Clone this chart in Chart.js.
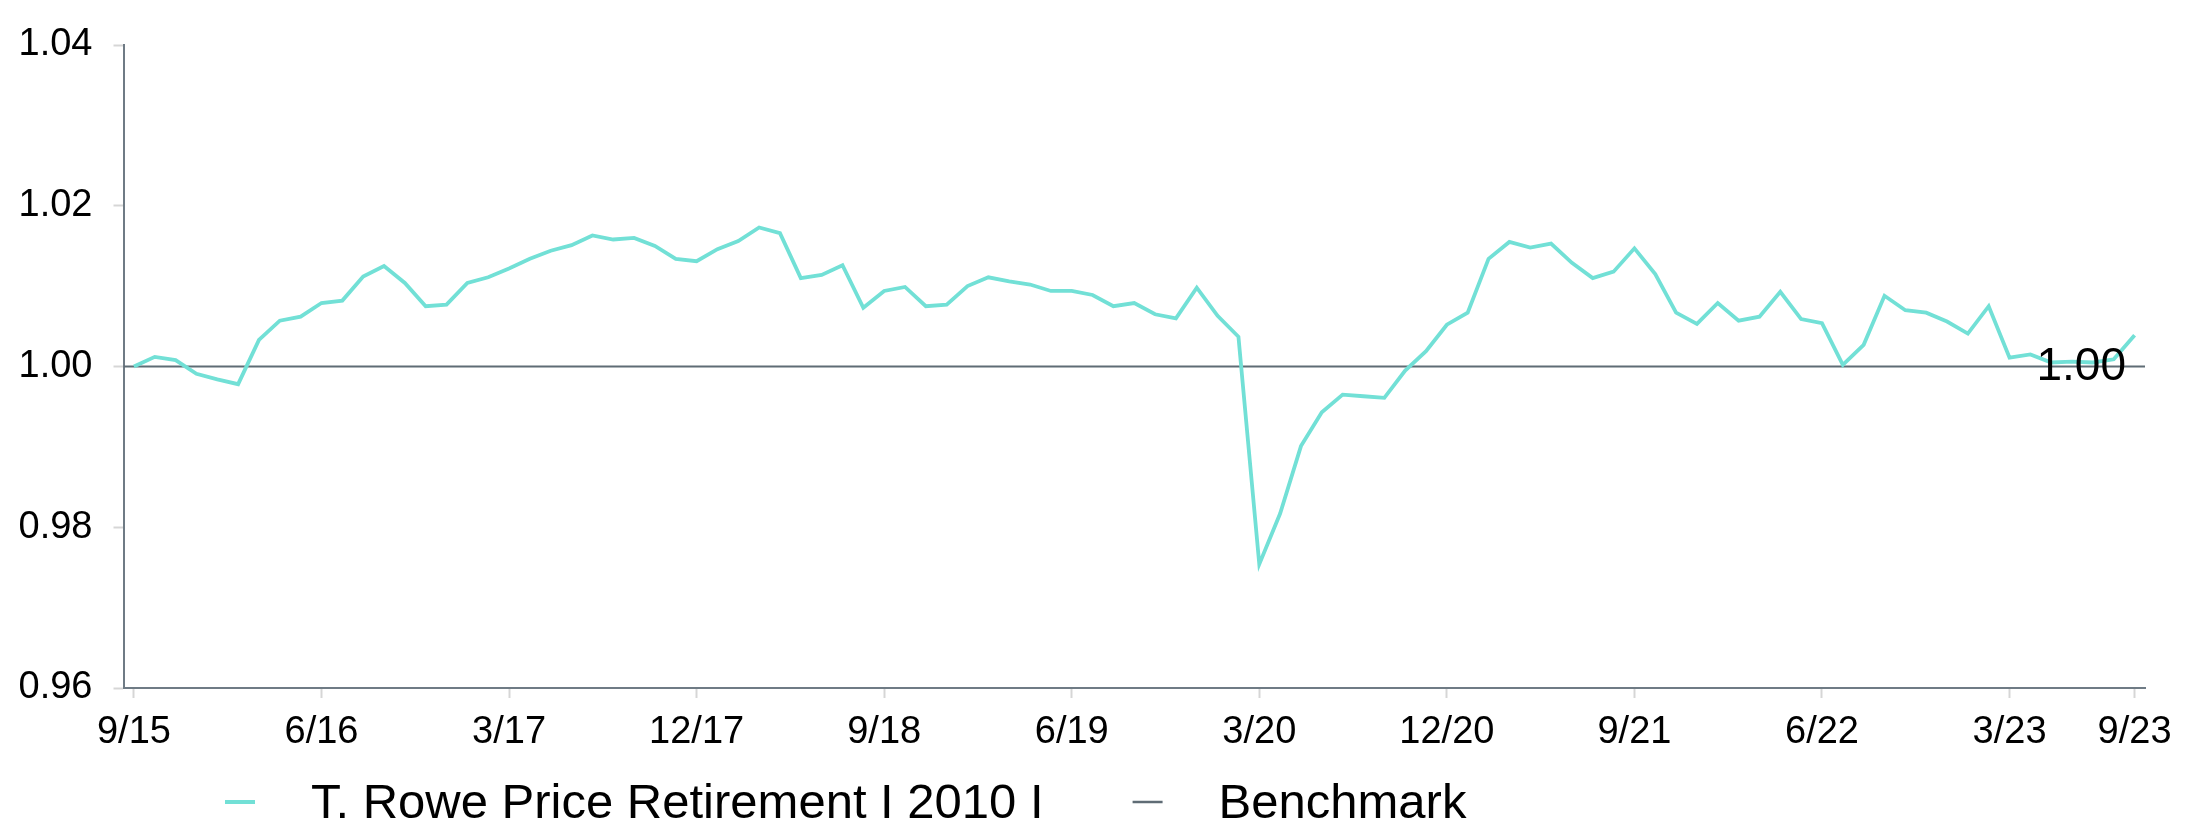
<!DOCTYPE html>
<html><head><meta charset="utf-8">
<script src="https://cdn.jsdelivr.net/npm/chart.js@4/dist/chart.umd.min.js"></script>
<style>html,body{margin:0;padding:0;background:#fff}#wrap{position:relative;width:2210px;height:838px}</style>
</head><body><div id="wrap"><canvas id="c"></canvas></div>
<script>
const months = [
 '9/15','10/15','11/15','12/15',
 '1/16','2/16','3/16','4/16','5/16','6/16','7/16','8/16','9/16','10/16','11/16','12/16',
 '1/17','2/17','3/17','4/17','5/17','6/17','7/17','8/17','9/17','10/17','11/17','12/17',
 '1/18','2/18','3/18','4/18','5/18','6/18','7/18','8/18','9/18','10/18','11/18','12/18',
 '1/19','2/19','3/19','4/19','5/19','6/19','7/19','8/19','9/19','10/19','11/19','12/19',
 '1/20','2/20','3/20','4/20','5/20','6/20','7/20','8/20','9/20','10/20','11/20','12/20',
 '1/21','2/21','3/21','4/21','5/21','6/21','7/21','8/21','9/21','10/21','11/21','12/21',
 '1/22','2/22','3/22','4/22','5/22','6/22','7/22','8/22','9/22','10/22','11/22','12/22',
 '1/23','2/23','3/23','4/23','5/23','6/23','7/23','8/23','9/23'
];
const tickLabels = ['9/15','6/16','3/17','12/17','9/18','6/19','3/20','12/20','9/21','6/22','3/23','9/23'];
const fundValues = [
 1.0000, 1.0012, 1.0008, 0.9991, 0.9984, 0.9978, 1.0033, 1.0057, 1.0062, 1.0079,
 1.0082, 1.0112, 1.0125, 1.0104, 1.0075, 1.0077, 1.0104, 1.0111, 1.0122, 1.0134,
 1.0144, 1.0151, 1.0163, 1.0158, 1.0160, 1.0150, 1.0134, 1.0131, 1.0146, 1.0156,
 1.0173, 1.0166, 1.0110, 1.0114, 1.0126, 1.0073, 1.0094, 1.0099, 1.0075, 1.0077,
 1.0100, 1.0111, 1.0106, 1.0102, 1.0094, 1.0094, 1.0089, 1.0075, 1.0079, 1.0065,
 1.0060, 1.0098, 1.0063, 1.0037, 0.9754, 0.9817, 0.9901, 0.9943, 0.9965, 0.9963,
 0.9961, 0.9995, 1.0019, 1.0052, 1.0067, 1.0134, 1.0155, 1.0148, 1.0153, 1.0129,
 1.0110, 1.0118, 1.0147, 1.0115, 1.0067, 1.0053, 1.0079, 1.0057, 1.0062, 1.0093,
 1.0059, 1.0054, 1.0002, 1.0027, 1.0088, 1.0070, 1.0067, 1.0056, 1.0041, 1.0075,
 1.0011, 1.0015, 1.0005, 1.0006, 1.0005, 1.0009, 1.0039
];
const benchmarkLevel = 1.00;
const yTickValues = [0.96, 0.98, 1.00, 1.02, 1.04];
const seriesNames = ['T. Rowe Price Retirement I 2010 I', 'Benchmark'];

const FONT = '"Liberation Sans", Arial, Helvetica, sans-serif';
const fundColor = '#72e0d6';
const benchColor = '#5f6c75';
const axisColor = '#6f7b85';
const tickMarkColor = '#d6d6d6';

const xMin = -0.5, xMax = months.length - 0.5;

const endLabelPlugin = {
  id: 'endLabel',
  afterDatasetsDraw(chart) {
    const ctx = chart.ctx, a = chart.chartArea;
    const y = chart.scales.y.getPixelForValue(benchmarkLevel);
    ctx.save();
    ctx.font = '46px ' + FONT;
    ctx.fillStyle = '#000';
    ctx.textAlign = 'right';
    ctx.textBaseline = 'alphabetic';
    ctx.fillText(benchmarkLevel.toFixed(2), a.right - 19, y + 13);
    ctx.restore();
  }
};

const legendPlugin = {
  id: 'customLegend',
  afterDraw(chart) {
    const ctx = chart.ctx;
    ctx.save();
    ctx.font = '49px ' + FONT;
    ctx.textBaseline = 'alphabetic';
    let x = 225;
    const markY = 802, textY = 818;
    chart.data.datasets.forEach((ds, i) => {
      ctx.strokeStyle = ds.borderColor;
      ctx.lineWidth = i === 0 ? 4 : 2.5;
      ctx.beginPath();
      ctx.moveTo(x, markY);
      ctx.lineTo(x + 30, markY);
      ctx.stroke();
      x += 30 + 56;
      ctx.fillStyle = '#000';
      ctx.fillText(ds.label, x, textY);
      x += ctx.measureText(ds.label).width + 89;
    });
    ctx.restore();
  }
};

new Chart(document.getElementById('c'), {
  type: 'line',
  data: {
    datasets: [
      {
        label: seriesNames[0],
        data: fundValues.map((v, i) => ({ x: i, y: v })),
        borderColor: fundColor,
        backgroundColor: fundColor,
        borderWidth: 3.8,
        pointRadius: 0,
        tension: 0,
        fill: false
      },
      {
        label: seriesNames[1],
        data: [{ x: xMin, y: benchmarkLevel }, { x: xMax, y: benchmarkLevel }],
        borderColor: benchColor,
        backgroundColor: benchColor,
        borderWidth: 2,
        pointRadius: 0,
        tension: 0,
        fill: false
      }
    ]
  },
  options: {
    responsive: true,
    maintainAspectRatio: false,
    animation: false,
    layout: { padding: { top: 45, right: 65, bottom: 0, left: 0 } },
    plugins: { legend: { display: false }, tooltip: { enabled: false } },
    scales: {
      x: {
        type: 'linear',
        min: xMin,
        max: xMax,
        afterBuildTicks: s => { s.ticks = tickLabels.map(l => ({ value: months.indexOf(l) })); },
        afterFit: s => { s.height = 150; },
        ticks: {
          callback: v => months[v],
          autoSkip: false,
          maxRotation: 0,
          minRotation: 0,
          color: '#000',
          padding: 12,
          font: { family: FONT, size: 38 }
        },
        grid: { drawOnChartArea: false, drawTicks: true, tickLength: 10, tickColor: tickMarkColor, tickWidth: 2 },
        border: { display: true, color: axisColor, width: 2 }
      },
      y: {
        min: 0.96,
        max: 1.04,
        afterBuildTicks: s => { s.ticks = yTickValues.map(v => ({ value: v })); },
        afterFit: s => { s.width = 123.5; },
        ticks: {
          callback: v => Number(v).toFixed(2),
          color: '#000',
          padding: 21,
          font: { family: FONT, size: 38 }
        },
        grid: { drawOnChartArea: false, drawTicks: true, tickLength: 10, tickColor: tickMarkColor, tickWidth: 2 },
        border: { display: true, color: axisColor, width: 2 }
      }
    }
  },
  plugins: [endLabelPlugin, legendPlugin]
});
</script>
</body></html>
